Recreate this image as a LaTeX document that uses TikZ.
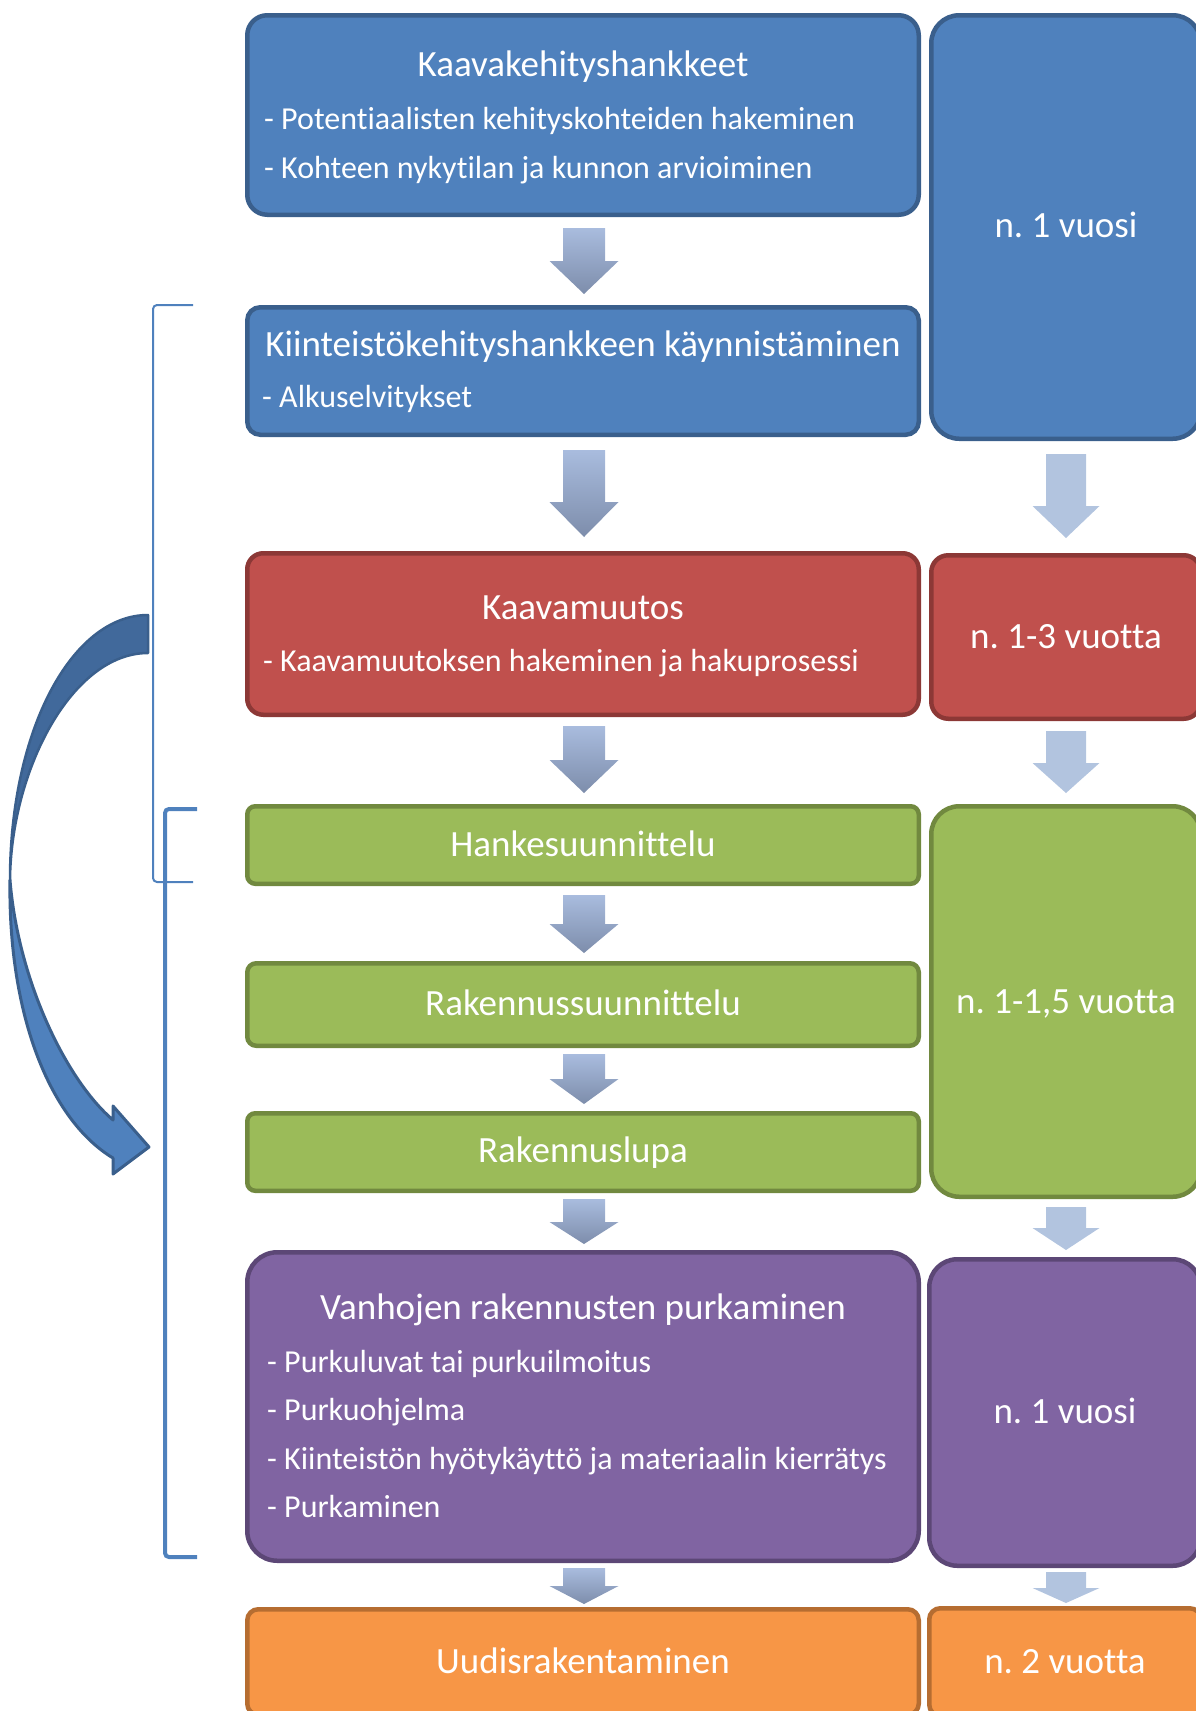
\documentclass[tikz,border=0pt]{standalone}
\usepackage{fontspec}
\setmainfont[Ligatures=NoCommon]{Carlito}
\frenchspacing
\definecolor{blueF}{HTML}{4F81BD}
\definecolor{blueD}{HTML}{3A5F8C}
\definecolor{redF}{HTML}{C0504D}
\definecolor{redD}{HTML}{8C3836}
\definecolor{greenF}{HTML}{9BBB59}
\definecolor{greenD}{HTML}{71893F}
\definecolor{purpleF}{HTML}{8064A2}
\definecolor{purpleD}{HTML}{5C4776}
\definecolor{orangeF}{HTML}{F79646}
\definecolor{orangeD}{HTML}{B66D31}
\definecolor{arrTop}{HTML}{A9BCDE}
\definecolor{arrBot}{HTML}{7D8DAB}
\definecolor{arrFlat}{HTML}{B2C4DF}
\definecolor{backArc}{HTML}{41699B}
\newcommand\dnarrow[7]{%
  \path[#1] ({#2-#6},#3) -- ({#2+#6},#3) -- ({#2+#6},#4) -- ({#2+#7},#4) -- (#2,#5) -- ({#2-#7},#4) -- ({#2-#6},#4) -- cycle;}
\begin{document}
\begin{tikzpicture}[x=1pt,y=-1pt,
  box/.style={draw=#1D, fill=#1F, line width=4.5pt, inner sep=0pt, outer sep=0pt},
  ttl/.style={text=white, font=\fontsize{37}{44}\selectfont, inner sep=0pt, anchor=base},
  bul/.style={text=white, font=\fontsize{32}{38}\selectfont, inner sep=0pt, anchor=base west},
  larr/.style={top color=arrTop, bottom color=arrBot, draw=none},
  rarr/.style={fill=arrFlat, draw=none},
  brk/.style={draw=blueF, rounded corners=4pt},
]
\useasboundingbox (0,0) rectangle (1196,1711);
\clip (0,0) rectangle (1196,1711);

% ---- left column boxes ----
\node[box=blue, rounded corners=20pt, minimum width=671.5pt, minimum height=199.5pt] (b1) at (583,115) {};
\node[box=blue, rounded corners=13pt, minimum width=671.5pt, minimum height=127.5pt] (b2) at (583,371) {};
\node[box=red, rounded corners=16pt, minimum width=671.5pt, minimum height=161.5pt] (b3) at (583,634) {};
\node[box=green, rounded corners=8pt, minimum width=671.5pt, minimum height=77.5pt] (g1) at (583,845) {};
\node[box=green, rounded corners=9pt, minimum width=671.5pt, minimum height=82.5pt] (g2) at (583,1004.5) {};
\node[box=green, rounded corners=8pt, minimum width=671.5pt, minimum height=77.5pt] (g3) at (583,1152) {};
\node[box=purple, rounded corners=30pt, minimum width=671.5pt, minimum height=308.5pt] (p1) at (583,1406.5) {};
\node[box=orange, rounded corners=11pt, minimum width=671.5pt, minimum height=105.5pt] (o1) at (583,1662) {};

% ---- right column boxes ----
\node[box=blue, rounded corners=28pt, minimum width=269.5pt, minimum height=423.5pt] (r1) at (1066,227) {};
\node[box=red, rounded corners=17pt, minimum width=269.5pt, minimum height=163.5pt] (r3) at (1066,637) {};
\node[box=green, rounded corners=28pt, minimum width=269.5pt, minimum height=390.5pt] (rg) at (1066,1001.5) {};
\node[box=purple, rounded corners=28pt, minimum width=271.5pt, minimum height=306.5pt] (rp) at (1065,1412.5) {};
\node[box=orange, rounded corners=11pt, minimum width=271.5pt, minimum height=107.5pt] (ro) at (1065,1662) {};

% ---- texts ----
\node[ttl] (t1) at (583,76) {Kaavakehityshankkeet};
\node[bul] (t1a) at (264,129) {- Potentiaalisten kehityskohteiden hakeminen};
\node[bul] (t1b) at (264,178) {- Kohteen nykytilan ja kunnon arvioiminen};
\node[ttl] (t2) at (583,356) {Kiinteistökehityshankkeen käynnistäminen};
\node[bul] (t2a) at (262,407) {- Alkuselvitykset};
\node[ttl] (t3) at (583,619) {Kaavamuutos};
\node[bul] (t3a) at (263,671) {- Kaavamuutoksen hakeminen ja hakuprosessi};
\node[ttl] (t4) at (583,856) {Hankesuunnittelu};
\node[ttl] (t5) at (583,1015) {Rakennussuunnittelu};
\node[ttl] (t6) at (583,1162) {Rakennuslupa};
\node[ttl] (t7) at (583,1319) {Vanhojen rakennusten purkaminen};
\node[bul] (t7a) at (267,1372) {- Purkuluvat tai purkuilmoitus};
\node[bul] (t7b) at (267,1420) {- Purkuohjelma};
\node[bul] (t7c) at (267,1469) {- Kiinteistön hyötykäyttö ja materiaalin kierrätys};
\node[bul] (t7d) at (267,1517) {- Purkaminen};
\node[ttl] (t8) at (583,1673) {Uudisrakentaminen};

\node[ttl] (u1) at (1066,237) {n. 1 vuosi};
\node[ttl] (u3) at (1066,648) {n. 1-3 vuotta};
\node[ttl] (ug) at (1066,1013) {n. 1-1,5 vuotta};
\node[ttl] (up) at (1065,1423) {n. 1 vuosi};
\node[ttl] (uo) at (1065,1673) {n. 2 vuotta};

% ---- block arrows, left column ----
\dnarrow{larr}{584}{228}{261}{294}{21}{34.5}
\dnarrow{larr}{584}{450}{502}{537}{21}{34.5}
\dnarrow{larr}{584}{726}{760}{793}{21}{34.5}
\dnarrow{larr}{584}{895}{924}{953}{21}{34.5}
\dnarrow{larr}{584}{1054}{1079}{1104}{21}{34.5}
\dnarrow{larr}{584}{1199}{1222}{1244}{21}{34.5}
\dnarrow{larr}{584}{1568}{1586}{1604}{21}{34.5}
% ---- block arrows, right column ----
\dnarrow{rarr}{1066}{454}{506}{538}{20}{33.5}
\dnarrow{rarr}{1066}{731}{763}{793}{20}{33.5}
\dnarrow{rarr}{1066}{1207}{1228}{1250}{20}{33.5}
\dnarrow{rarr}{1066}{1572}{1588}{1603}{20}{33.5}

% ---- brackets ----
\draw[brk, line width=2pt] (193,305) -- (153,305) -- (153,882) -- (193,882);
\draw[brk, line width=4pt] (197,809) -- (165,809) -- (165,1557) -- (197,1557);

% ---- curved arrow ----
\path[fill=backArc, draw=blueD, line width=2.5pt, line join=round]
  (148,615) .. controls (72,615) and (10,730) .. (10,880)
  .. controls (11,770) and (72,653) .. (148,653) -- cycle;
\path[fill=blueF, draw=blueD, line width=3pt, line join=round]
  (10,880) .. controls (8,1015) and (50,1120) .. (113,1158)
  -- (113,1174) -- (149,1147) -- (113,1106) -- (113,1120)
  .. controls (66,1080) and (18,980) .. (10,880) -- cycle;
\end{tikzpicture}
\end{document}
